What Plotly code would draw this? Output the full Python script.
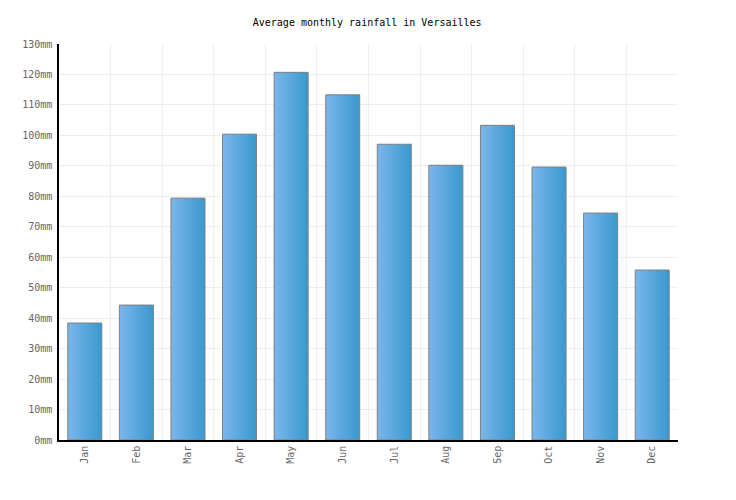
import plotly.graph_objects as go

months = ["Jan", "Feb", "Mar", "Apr", "May", "Jun",
          "Jul", "Aug", "Sep", "Oct", "Nov", "Dec"]
rainfall = [38.4, 44.3, 79.4, 100.4, 120.7, 113.3,
            97.1, 90.2, 103.3, 89.6, 74.5, 55.8]

# bar gradient, light blue on the left to deeper blue on the right
left_col = (122, 181, 234)
right_col = (58, 154, 207)
bar_w = 0.66
n_slices = 16

fig = go.Figure()
for i in range(n_slices):
    t = i / (n_slices - 1)
    c = tuple(round(a + (b - a) * t) for a, b in zip(left_col, right_col))
    sw = bar_w / n_slices
    fig.add_trace(go.Bar(
        x=months, y=rainfall,
        width=sw * 1.6 if i < n_slices - 1 else sw,
        offset=-bar_w / 2 + i * sw,
        marker=dict(color="rgb(%d,%d,%d)" % c, line=dict(width=0)),
        hoverinfo="skip", showlegend=False,
    ))

# outline on top
fig.add_trace(go.Bar(
    x=months, y=rainfall, width=bar_w, offset=-bar_w / 2,
    marker=dict(color="rgba(0,0,0,0)", line=dict(color="#808080", width=1)),
    showlegend=False,
))

font = "DejaVu Sans Mono, Liberation Mono, monospace"
# page has 8px body margin, so margins are trimmed to land the plot area
fig.update_layout(
    width=736, height=500,
    barmode="overlay",
    paper_bgcolor="white", plot_bgcolor="white",
    margin=dict(l=51, r=66, t=36, b=68),
    title=dict(text="Average monthly rainfall in Versailles",
               x=0.488, xanchor="center", y=0.972, yanchor="middle",
               font=dict(family=font, size=10, color="#000")),
    font=dict(family=font, size=10, color="#666"),
    xaxis=dict(
        type="category", tickson="boundaries", tickangle=-90,
        showgrid=True, gridcolor="#eeeeee", gridwidth=1,
        showline=True, linecolor="#000", linewidth=1.5,
        ticks="", range=[-0.5, 11.5],
    ),
    yaxis=dict(
        range=[0, 130], dtick=10, ticksuffix="mm",
        showgrid=True, gridcolor="#eeeeee", gridwidth=1,
        showline=True, linecolor="#000", linewidth=1.5,
        ticks="", zeroline=False, ticklabelstandoff=3,
    ),
)

fig.write_html("out.html")
